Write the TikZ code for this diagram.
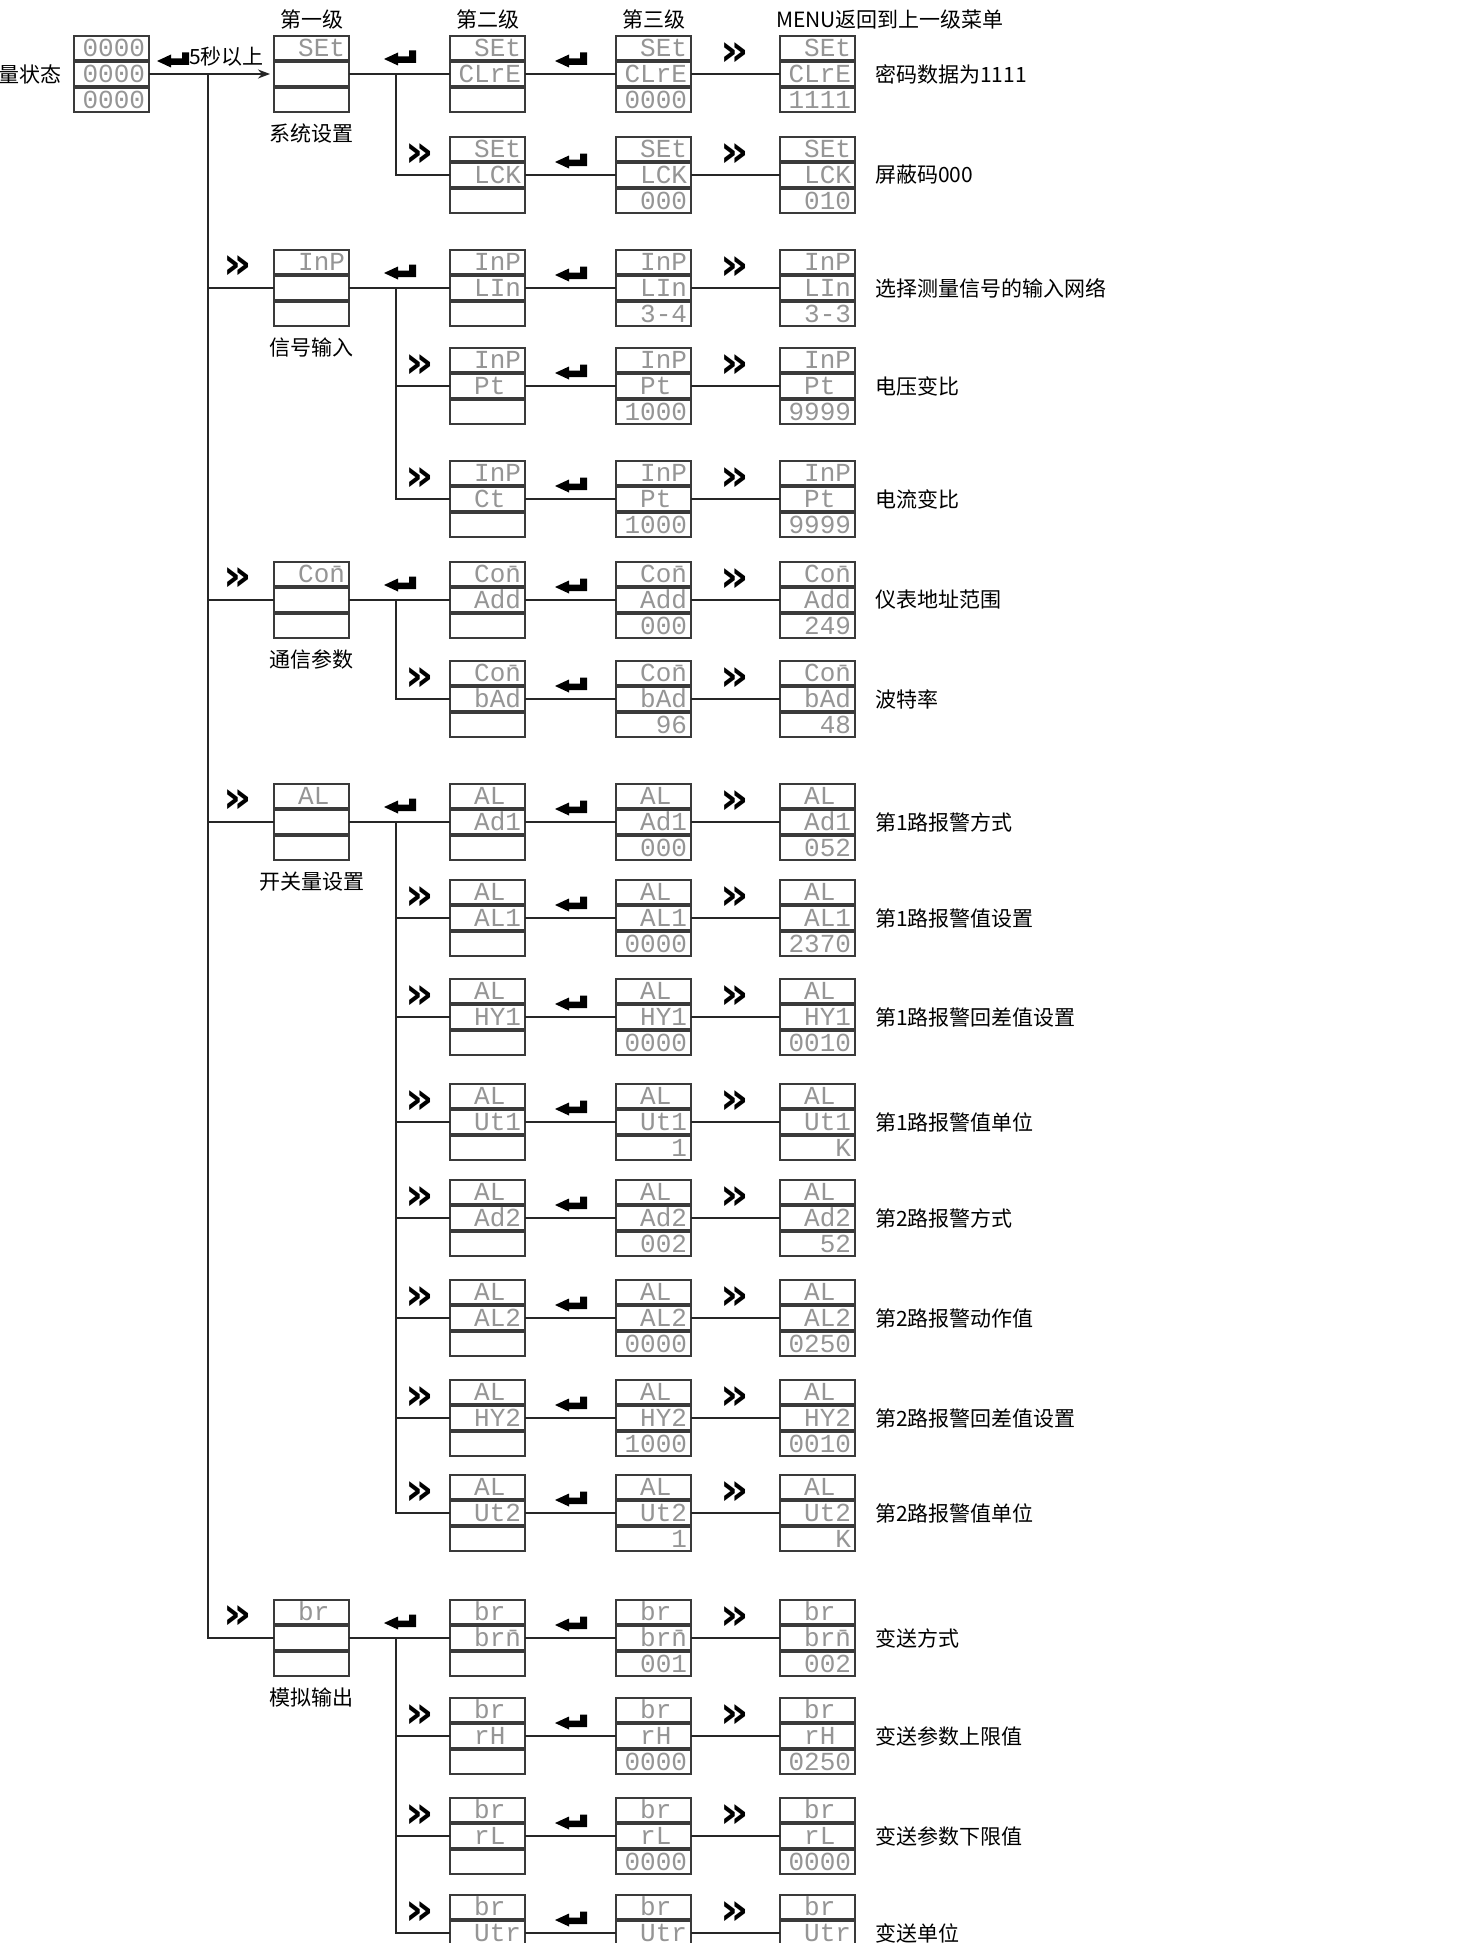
\documentclass[tikz,border=0pt]{standalone}
\usepackage{fontspec}
\setmainfont{Noto Sans CJK SC}
\newfontfamily\lcdfont{Liberation Mono}
\newfontfamily\symfont{DejaVu Sans}
\usetikzlibrary{positioning,arrows.meta}
\definecolor{lcdgray}{HTML}{959595}
\definecolor{framec}{HTML}{3A3A3A}
\tikzset{
  seg/.style={draw=framec,line width=1.3pt,minimum width=75pt,inner xsep=0pt,inner ysep=3.5pt,outer sep=0pt,
    text width=67pt,align=right,text height=17pt,text depth=0pt,text=lcdgray,font=\lcdfont\fontsize{26}{26}\selectfont},
  ln/.style={line width=1.5pt,black!85},
  lbl/.style={font=\fontsize{21}{24}\selectfont,inner sep=0pt},
  fwd/.style={font=\symfont\bfseries\fontsize{44}{44}\selectfont,inner sep=0pt},
  retkey/.pic={\fill[black] (0,0) -- (14,-6.5) -- (14,-2.5) -- (25,-2.5) -- (25,-8.5) -- (32,-8.5) -- (32,4) -- (14,4) -- (14,6.5) -- cycle;}
}
\newcommand{\gap}{\hphantom{0}}
% one display: name, x, y of middle row, three texts
\newcommand{\lcd}[6]{\node[seg] (#1-2) at (#2,#3) {#5};
  \node[seg,above=2pt of #1-2] (#1-1) {#4};
  \node[seg,below=2pt of #1-2] (#1-3) {#6};}

\begin{document}
\begin{tikzpicture}[x=1pt,y=-1pt]
\path[use as bounding box,fill=white] (0,0) rectangle (1460,1943);

% measuring state and first level
\lcd{p0}{111.5}{74}{0000}{0000}{0000}
\node[lbl,left=12pt of p0-2] (state) {量状态};
\lcd{g1}{311.5}{74}{SEt}{}{}
\lcd{g2}{311.5}{288}{InP}{}{}
\lcd{g3}{311.5}{600}{Co\={n}}{}{}
\lcd{g4}{311.5}{822}{AL\gap}{}{}
\lcd{g5}{311.5}{1638}{br\gap}{}{}
\node[lbl,below=12pt of g1-3] (g1-t) {系统设置};
\node[lbl,below=12pt of g2-3] (g2-t) {信号输入};
\node[lbl,below=12pt of g3-3] (g3-t) {通信参数};
\node[lbl,below=12pt of g4-3] (g4-t) {开关量设置};
\node[lbl,below=12pt of g5-3] (g5-t) {模拟输出};

\draw[ln,-{Stealth[length=12pt,width=9pt]},shorten >=4pt] (p0-2) -- (g1-2);
\pic at ([xshift=8pt,yshift=13pt]p0-2.east) {retkey};
\node[lbl,anchor=west] (hold) at (189,57) {5秒以上};
\coordinate (tk) at (208,74);
\foreach \g in {g2,g3,g4,g5}{\draw[ln] (tk) |- (\g-2.west);
  \node[fwd,left=22pt of \g-1,yshift=-5pt] (\g-f) {»};}

% second, third and menu level
\foreach \n/\y/\ta/\tb/\tc/\va/\vb/\lab in {
  r1/74/SEt/CLrE/CLrE/0000/1111/密码数据为1111,
  r2/175/SEt/LCK/LCK/000/010/屏蔽码000,
  r3/288/InP/LIn/LIn/3-4/3-3/选择测量信号的输入网络,
  r4/386/InP/Pt\gap/Pt\gap/1000/9999/电压变比,
  r5/499/InP/Ct\gap/Pt\gap/1000/9999/电流变比,
  r6/600/Co\={n}/Add/Add/000/249/仪表地址范围,
  r7/699/Co\={n}/bAd/bAd/96/48/波特率,
  r8/822/AL\gap/Ad1/Ad1/000/052/第1路报警方式,
  r9/918/AL\gap/AL1/AL1/0000/2370/第1路报警值设置,
  r10/1017/AL\gap/HY1/HY1/0000/0010/第1路报警回差值设置,
  r11/1122/AL\gap/Ut1/Ut1/1/K/第1路报警值单位,
  r12/1218/AL\gap/Ad2/Ad2/002/52/第2路报警方式,
  r13/1318/AL\gap/AL2/AL2/0000/0250/第2路报警动作值,
  r14/1418/AL\gap/HY2/HY2/1000/0010/第2路报警回差值设置,
  r15/1513/AL\gap/Ut2/Ut2/1/K/第2路报警值单位,
  r16/1638/br\gap/br\={n}/br\={n}/001/002/变送方式,
  r17/1736/br\gap/rH\gap/rH\gap/0000/0250/变送参数上限值,
  r18/1836/br\gap/rL\gap/rL\gap/0000/0000/变送参数下限值,
  r19/1933/br\gap/Utr/Utr/{}/{}/变送单位}{
  \lcd{\n-b}{487.5}{\y}{\ta}{\tb}{}
  \lcd{\n-c}{653.5}{\y}{\ta}{\tc}{\va}
  \lcd{\n-d}{817.5}{\y}{\ta}{\tc}{\vb}
  \draw[ln] (\n-b-2) -- (\n-c-2);
  \draw[ln] (\n-c-2) -- (\n-d-2);
  \pic at ([xshift=30pt,yshift=13pt]\n-b-2.east) {retkey};
  \node[fwd,left=31pt of \n-d-1,yshift=-6pt] (\n-f) {»};
  \node[lbl,right=20pt of \n-d-2] (\n-t) {\lab};
}

\node[lbl,above=7pt of g1-1] (h1) {第一级};
\node[lbl,above=7pt of r1-b-1] (h2) {第二级};
\node[lbl,above=7pt of r1-c-1] (h3) {第三级};
\node[lbl,anchor=west] (h4) at (776,20) {MENU返回到上一级菜单};

% first level to second level
\foreach \g/\r in {g1/r1,g2/r3,g3/r6,g4/r8,g5/r16}{\draw[ln] (\g-2) -- (\r-b-2);
  \pic at ([xshift=35pt,yshift=15pt]\g-2.east) {retkey};}
\coordinate (s1) at (396,74);
\coordinate (s2) at (396,288);
\coordinate (s3) at (396,600);
\coordinate (s4) at (396,822);
\coordinate (s5) at (396,1638);
\foreach \s/\r in {s1/r2,s2/r4,s2/r5,s3/r7,s4/r9,s4/r10,s4/r11,s4/r12,s4/r13,s4/r14,s4/r15,s5/r17,s5/r18,s5/r19}{
  \draw[ln] (\s) |- (\r-b-2.west);
  \node[fwd,left=16pt of \r-b-1,yshift=-6pt] (\r-g) {»};}
\end{tikzpicture}
\end{document}
